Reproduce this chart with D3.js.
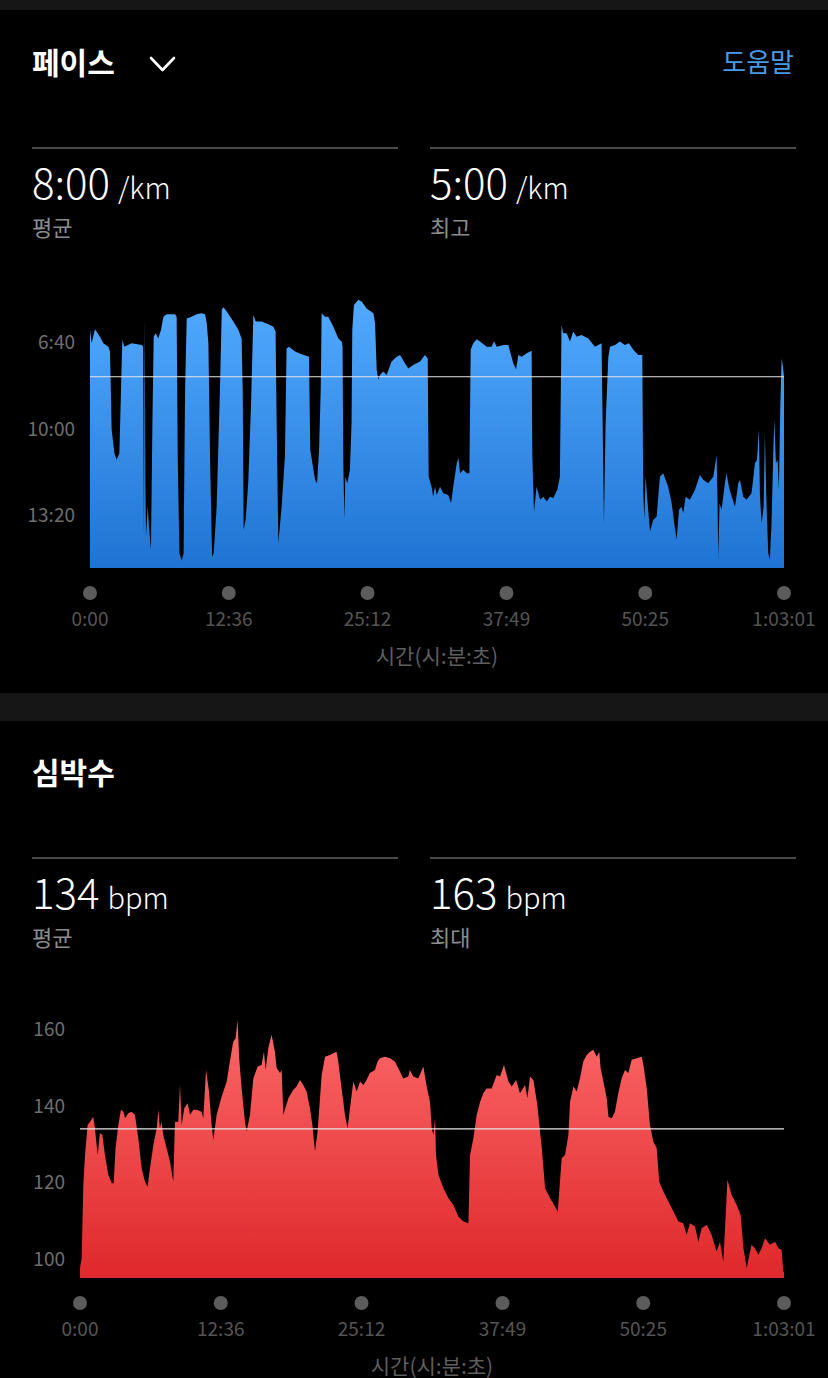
<!DOCTYPE html>
<html>
<head>
<meta charset="utf-8">
<script src="https://cdn.jsdelivr.net/npm/d3@7"></script>
<style>
  html, body { margin: 0; padding: 0; background: #000; }
  svg { display: block; }
</style>
</head>
<body>
<div id="chart"></div>
<script>
// ---------------------------------------------------------------
// DATA  (time in seconds, pace in seconds per km, heart rate in bpm)
// ---------------------------------------------------------------

const pace = [
  [0,372],[9,403],[27,371],[54,388],[73,403],[100,411],[109,422],[118,602],[133,656],[145,671],
  [160,656],[169,510],[176,395],[187,411],[227,403],[282,407],[289,411],[294,848],[298,346],[302,740],
  [305,848],[314,779],[323,832],[332,878],[340,587],[347,388],[358,380],[372,392],[387,372],[400,342],
  [418,336],[463,336],[472,342],[478,664],[487,886],[500,903],[510,886],[518,510],[527,346],[554,342],
  [581,336],[608,334],[627,336],[636,357],[645,403],[654,664],[665,894],[674,886],[690,779],[708,510],
  [718,326],[727,320],[745,330],[781,353],[808,372],[826,392],[832,510],[837,832],[848,809],[862,725],
  [877,549],[890,338],[903,353],[935,353],[972,359],[999,365],[1011,376],[1017,587],[1026,863],[1044,779],
  [1062,664],[1071,415],[1084,411],[1117,422],[1153,428],[1193,434],[1200,648],[1226,717],[1237,725],[1248,648],
  [1257,510],[1262,334],[1280,342],[1298,342],[1326,365],[1353,392],[1371,399],[1376,411],[1380,679],[1386,809],
  [1391,710],[1402,725],[1416,694],[1425,587],[1429,372],[1438,315],[1462,303],[1480,307],[1507,323],[1544,334],
  [1553,357],[1562,464],[1571,487],[1580,476],[1598,468],[1616,476],[1643,445],[1671,434],[1689,430],[1716,449],
  [1734,461],[1761,453],[1798,445],[1825,430],[1840,438],[1845,710],[1861,733],[1870,756],[1880,733],[1889,752],
  [1907,733],[1925,748],[1952,752],[1967,771],[1979,733],[1998,679],[2007,667],[2016,702],[2034,694],[2052,702],
  [2067,702],[2074,418],[2088,403],[2107,394],[2125,399],[2161,411],[2188,411],[2201,399],[2216,411],[2252,407],
  [2279,407],[2306,449],[2321,463],[2334,430],[2352,434],[2379,426],[2406,420],[2410,664],[2419,790],[2433,733],
  [2452,763],[2470,756],[2488,767],[2506,756],[2524,759],[2546,740],[2560,710],[2569,361],[2578,380],[2597,380],
  [2615,399],[2633,376],[2651,388],[2678,384],[2715,392],[2751,411],[2769,407],[2787,403],[2793,587],[2800,817],
  [2809,587],[2824,434],[2833,411],[2860,407],[2887,399],[2914,407],[2936,403],[2960,418],[2987,430],[3009,430],
  [3014,740],[3020,809],[3027,710],[3038,771],[3051,836],[3069,809],[3087,802],[3105,710],[3123,702],[3150,733],
  [3169,771],[3183,817],[3196,855],[3209,786],[3223,779],[3232,794],[3245,756],[3268,763],[3296,740],[3323,706],
  [3341,717],[3368,725],[3396,710],[3414,660],[3419,771],[3423,897],[3430,771],[3441,786],[3459,725],[3468,702],
  [3481,733],[3496,756],[3514,779],[3532,725],[3541,717],[3559,756],[3577,763],[3604,748],[3623,679],[3634,671],
  [3644,602],[3650,756],[3659,817],[3670,779],[3677,610],[3684,748],[3695,886],[3704,901],[3713,817],[3722,664],
  [3728,579],[3737,679],[3746,671],[3753,740],[3761,549],[3768,438],[3775,457],[3781,480]
];

const heartRate = [
  [0,97.6],[9,100.2],[18,119.4],[27,127.2],[41,135],[54,135.9],[71,137.2],[80,134.2],[95,127.2],[107,132.9],
  [120,132.4],[134,127.2],[152,122],[170,119.8],[181,119.8],[191,129],[206,135],[220,139],[233,138.5],[242,136.8],
  [259,138.1],[277,138.5],[295,137.7],[313,131.6],[331,123.7],[349,120.2],[363,118.9],[376,123.7],[394,129.8],[412,134.2],
  [421,139],[429,134.2],[438,135.9],[447,132.4],[465,129],[483,125.5],[501,120.2],[510,135.9],[528,135.9],[537,145.5],
  [546,135],[560,139.4],[578,140.7],[591,137.7],[609,139],[626,139],[653,138.5],[662,136.8],[677,149.4],[693,143.8],
  [707,135],[716,131.1],[734,137.7],[761,142.5],[788,146.4],[805,151.6],[823,156.8],[836,157.7],[846,162.5],[855,152.5],
  [868,144.6],[886,135.9],[895,133.3],[913,137.7],[931,147.2],[954,150.3],[975,150.7],[988,154.2],[997,149.4],[1011,155.1],
  [1029,158.6],[1047,154.2],[1056,149.9],[1074,148.6],[1083,149.4],[1092,137.7],[1119,142],[1145,144.2],[1163,145.1],[1181,146.8],
  [1199,145.5],[1217,143.8],[1235,139.4],[1248,135],[1262,128.1],[1276,133.3],[1298,148.1],[1316,152.9],[1342,153.3],[1360,153.8],
  [1378,154.2],[1387,151.6],[1405,144.6],[1423,137.7],[1437,134.2],[1450,139.4],[1468,146.4],[1486,143.8],[1504,146.4],[1522,145.5],
  [1539,146.8],[1557,148.6],[1584,149.4],[1598,151.6],[1611,152.5],[1638,152.9],[1665,152.5],[1691,151.6],[1718,149],[1736,147.2],
  [1763,147.7],[1772,149.4],[1790,147.7],[1817,147.2],[1844,150.3],[1862,145.1],[1880,141],[1889,134.2],[1898,132.4],[1907,136.8],
  [1912,127.2],[1925,122],[1952,118.5],[1978,115.9],[2005,114.1],[2032,111.1],[2059,109.8],[2086,109.3],[2095,127.2],[2113,131.6],
  [2131,137.7],[2149,141.1],[2166,143.3],[2184,144.6],[2211,144.6],[2238,148.1],[2256,147.7],[2277,150.7],[2301,146.4],[2319,145.1],
  [2342,146.8],[2363,143.3],[2390,145.5],[2403,142],[2417,147.7],[2435,146.8],[2456,140.3],[2480,129],[2498,118.5],[2524,115.9],
  [2551,113.7],[2566,112.4],[2587,126.3],[2605,127.2],[2623,132.4],[2632,141.1],[2650,145.1],[2668,143.8],[2685,147.2],[2703,151.6],
  [2721,153.3],[2739,154.2],[2757,154.7],[2775,152.9],[2789,154.2],[2796,149.9],[2811,146.4],[2829,142],[2838,137.2],[2856,136.8],
  [2873,138.5],[2891,143.3],[2909,147.2],[2927,149.4],[2945,148.6],[2963,152.1],[2990,152.5],[3017,152.9],[3026,150.7],[3044,144.6],
  [3061,135],[3079,130.7],[3097,129],[3111,120.2],[3133,117.6],[3160,115],[3187,112.4],[3214,109.8],[3240,109.3],[3258,106.3],
  [3276,109.3],[3303,108.5],[3321,104.5],[3339,108],[3366,108.9],[3392,106.3],[3419,101.9],[3437,104.5],[3455,99.3],[3469,112.4],
  [3477,120.7],[3500,116.7],[3527,114.1],[3548,111.5],[3563,102.8],[3581,97.6],[3595,101.1],[3607,103.7],[3625,102.8],[3643,101.1],
  [3661,102.8],[3679,105.4],[3706,103.7],[3733,104.5],[3751,102.8],[3768,102.4],[3777,96.7],[3781,96.5]
];

const timeTicks = [0, 756, 1512, 2269, 3025, 3781];
const paceTicks = [400, 600, 800];
const hrTicks = [100, 120, 140, 160];

const paceAvg = 480;   // 8:00 /km
const hrAvg = 134;

const paceStats = [
  { value: "8:00", unit: "/km", label: "평균" },
  { value: "5:00", unit: "/km", label: "최고" }
];
const hrStats = [
  { value: "134", unit: "bpm", label: "평균" },
  { value: "163", unit: "bpm", label: "최대" }
];

// ---------------------------------------------------------------
// HELPERS
// ---------------------------------------------------------------

const W = 828, H = 1378;
const FONT = "'Noto Sans CJK KR', 'Noto Sans', sans-serif";

function fmtClock(s) {
  const h = Math.floor(s / 3600);
  const m = Math.floor((s % 3600) / 60);
  const sec = Math.round(s % 60);
  const pad = n => String(n).padStart(2, "0");
  return h > 0 ? `${h}:${pad(m)}:${pad(sec)}` : `${m}:${pad(sec)}`;
}

const svg = d3.select("#chart")
  .append("svg")
  .attr("width", W)
  .attr("height", H)
  .style("background", "#000")
  .style("font-family", FONT);

const defs = svg.append("defs");

function gradient(id, top, bottom, y1, y2) {
  const g = defs.append("linearGradient")
    .attr("id", id)
    .attr("gradientUnits", "userSpaceOnUse")
    .attr("x1", 0).attr("x2", 0)
    .attr("y1", y1).attr("y2", y2);
  g.append("stop").attr("offset", "0%").attr("stop-color", top);
  g.append("stop").attr("offset", "100%").attr("stop-color", bottom);
}

// ---------------------------------------------------------------
// BACKGROUND BANDS
// ---------------------------------------------------------------

svg.append("rect").attr("x", 0).attr("y", 0).attr("width", W).attr("height", 10).attr("fill", "#161616");
svg.append("rect").attr("x", 0).attr("y", 693).attr("width", W).attr("height", 28).attr("fill", "#161616");

// ---------------------------------------------------------------
// SECTION HEADER + STATS
// ---------------------------------------------------------------

function header(title, y) {
  svg.append("text")
    .attr("x", 32).attr("y", y)
    .attr("fill", "#fff")
    .attr("font-size", 30)
    .attr("font-weight", 700)
    .text(title);
}

function stats(list, lineY) {
  const cols = [32, 430];
  list.forEach((d, i) => {
    const x = cols[i];
    svg.append("line")
      .attr("x1", x).attr("x2", x + 366)
      .attr("y1", lineY).attr("y2", lineY)
      .attr("stroke", "#4a4a4a").attr("stroke-width", 2);

    const t = svg.append("text")
      .attr("x", x).attr("y", lineY + 51)
      .attr("fill", "#fff");
    t.append("tspan").attr("font-size", 42).attr("font-weight", 300).text(d.value);
    t.append("tspan").attr("dx", 8).attr("font-size", 29).attr("font-weight", 300).text(d.unit);

    svg.append("text")
      .attr("x", x).attr("y", lineY + 88)
      .attr("fill", "#8c8c8c")
      .attr("font-size", 22)
      .text(d.label);
  });
}

header("페이스", 74);

// chevron
svg.append("path")
  .attr("d", "M151,58 L162.5,70 L174,58")
  .attr("fill", "none")
  .attr("stroke", "#fff")
  .attr("stroke-width", 2.6)
  .attr("stroke-linecap", "round")
  .attr("stroke-linejoin", "round");

svg.append("text")
  .attr("x", 794).attr("y", 72)
  .attr("text-anchor", "end")
  .attr("fill", "#4a9be6")
  .attr("font-size", 26)
  .text("도움말");

stats(paceStats, 148);

header("심박수", 784);
stats(hrStats, 858);

// ---------------------------------------------------------------
// AREA CHART BUILDER
// ---------------------------------------------------------------

function areaChart(opt) {
  const x = d3.scaleLinear().domain([0, 3781]).range([opt.left, opt.right]);
  const y = d3.scaleLinear().domain(opt.yDomain).range([opt.bottom, opt.top]);

  gradient(opt.id, opt.colors[0], opt.colors[1], opt.top, opt.bottom);

  const area = d3.area()
    .x(d => x(d[0]))
    .y0(opt.bottom)
    .y1(d => y(d[1]));

  svg.append("path")
    .datum(opt.data)
    .attr("d", area)
    .attr("fill", `url(#${opt.id})`);

  // average line
  svg.append("line")
    .attr("x1", opt.left).attr("x2", opt.right)
    .attr("y1", y(opt.avg)).attr("y2", y(opt.avg))
    .attr("stroke", "#e6e6e6")
    .attr("stroke-width", 1.2);

  // y axis labels
  svg.append("g")
    .selectAll("text")
    .data(opt.yTicks)
    .join("text")
    .attr("x", opt.labelX)
    .attr("y", d => y(d))
    .attr("dy", "0.35em")
    .attr("text-anchor", "end")
    .attr("fill", "#6e6e6e")
    .attr("font-size", 19)
    .text(opt.yFormat);

  // x axis dots + labels
  const ax = svg.append("g");
  ax.selectAll("circle")
    .data(timeTicks)
    .join("circle")
    .attr("cx", d => x(d))
    .attr("cy", opt.bottom + 25)
    .attr("r", 7)
    .attr("fill", "#5c5c5c");

  ax.selectAll("text")
    .data(timeTicks)
    .join("text")
    .attr("x", d => x(d))
    .attr("y", opt.bottom + 58)
    .attr("text-anchor", "middle")
    .attr("fill", "#555")
    .attr("font-size", 19)
    .text(fmtClock);

  svg.append("text")
    .attr("x", (opt.left + opt.right) / 2)
    .attr("y", opt.bottom + 96)
    .attr("text-anchor", "middle")
    .attr("fill", "#5e5e5e")
    .attr("font-size", 21)
    .text("시간(시:분:초)");
}

// pace: slower pace is drawn lower, so the domain runs from slow to fast
areaChart({
  id: "paceFill",
  data: pace,
  left: 90, right: 784, top: 298.5, bottom: 568,
  yDomain: [920, 300],
  yTicks: paceTicks,
  yFormat: fmtClock,
  avg: paceAvg,
  labelX: 75,
  colors: ["#52aaff", "#1f74d3"]
});

areaChart({
  id: "hrFill",
  data: heartRate,
  left: 80, right: 784, top: 1029.5, bottom: 1278,
  yDomain: [95, 160],
  yTicks: hrTicks,
  yFormat: d => d,
  avg: hrAvg,
  labelX: 65,
  colors: ["#fb6667", "#df282b"]
});
</script>
</body>
</html>
